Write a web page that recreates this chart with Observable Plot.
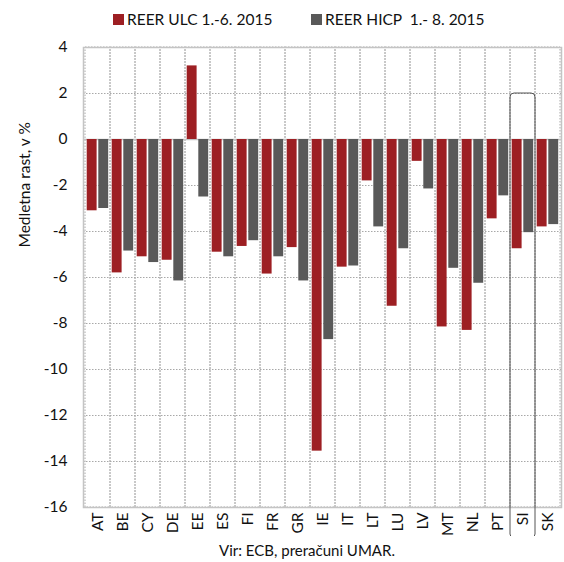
<!DOCTYPE html>
<html>
<head>
<meta charset="utf-8">
<script src="https://cdn.jsdelivr.net/npm/d3@7"></script>
<script src="https://cdn.jsdelivr.net/npm/@observablehq/plot@0.6"></script>
<style>
  html, body { margin: 0; padding: 0; background: #fff; }
  body { width: 564px; height: 562px; position: relative; font-family: Lato, "Open Sans", sans-serif; color: #111; }
  #legend { position: relative; height: 36px; font-size: 15.5px; }
  .li { position: absolute; top: 10px; display: flex; align-items: center; white-space: pre; }
  .sw { width: 11px; height: 11px; margin-right: 3px; }
  #caption { height: 26px; text-align: center; font-size: 15px; padding-left: 50px; line-height: 28px; }
</style>
</head>
<body>
<div id="legend"></div>
<div id="chart"></div>
<div id="caption"></div>
<script>
const countries = ["AT","BE","CY","DE","EE","ES","FI","FR","GR","IE","IT","LT","LU","LV","MT","NL","PT","SI","SK"];
const ulc  = [-3.1, -5.8, -5.1, -5.25, 3.2, -4.9, -4.65, -5.85, -4.7, -13.55, -5.55, -1.8, -7.25, -0.95, -8.15, -8.3, -3.45, -4.75, -3.8];
const hicp = [-3.0, -4.85, -5.35, -6.15, -2.5, -5.1, -4.4, -5.1, -6.15, -8.7, -5.5, -3.8, -4.75, -2.15, -5.6, -6.25, -2.45, -4.05, -3.7];
const seriesNames = ["REER ULC 1.-6. 2015", "REER HICP  1.- 8. 2015"];
const seriesColors = ["#9d1f23", "#595959"];
const yTicks = [4, 2, 0, -2, -4, -6, -8, -10, -12, -14, -16];
const yLabel = "Medletna rast, v %";
const captionText = "Vir: ECB, preračuni UMAR.";
const highlight = ["SI"];

// legend
const legend = document.getElementById("legend");
const legendLeft = [113, 311];
seriesNames.forEach((name, i) => {
  const item = document.createElement("div");
  item.className = "li";
  item.style.left = legendLeft[i] + "px";
  const sw = document.createElement("div");
  sw.className = "sw";
  sw.style.background = seriesColors[i];
  item.appendChild(sw);
  item.appendChild(document.createTextNode(name));
  legend.appendChild(item);
});
document.getElementById("caption").textContent = captionText;

const ulcData = countries.map((c, i) => ({country: c, value: ulc[i]}));
const hicpData = countries.map((c, i) => ({country: c, value: hicp[i]}));
const yMin = d3.min(yTicks), yMax = d3.max(yTicks);

const chart = Plot.plot({
  width: 564,
  height: 500,
  marginTop: 11,
  marginBottom: 29,
  marginLeft: 83,
  marginRight: 3,
  style: {fontFamily: "Lato, 'Open Sans', sans-serif", fontSize: "15px", color: "#111", background: "#fff"},
  x: {domain: countries, padding: 0},
  y: {domain: [yMin, yMax]},
  marks: [
    Plot.gridY(yTicks, {stroke: "#a8a8a8", strokeOpacity: 1, strokeDasharray: "1.5,1.5"}),
    Plot.barY(countries, {x: d => d, y1: yMin, y2: yMax, fill: "none", stroke: "#a8a8a8", strokeDasharray: "1.5,1.5"}),
    Plot.ruleY([0], {stroke: "#c4c4c4", strokeWidth: 1.5}),
    Plot.barY(ulcData, {x: "country", y: "value", fill: seriesColors[0], insetLeft: 1.7, insetRight: 13.4}),
    Plot.barY(hicpData, {x: "country", y: "value", fill: seriesColors[1], insetLeft: 13.3, insetRight: 1.8}),
    Plot.frame({stroke: "#c4c4c4", strokeWidth: 1.5}),
    Plot.rect(highlight, {x: d => d, y1: 2, y2: yMin, insetBottom: -31, rx: 4, fill: "none", stroke: "#555", strokeWidth: 1}),
    Plot.axisY({ticks: yTicks, tickSize: 0, tickPadding: 16, label: null, tickFormat: d => String(d), fontSize: 15.5}),
    Plot.axisX({tickRotate: -90, tickSize: 0, tickPadding: 5, label: null, fontSize: 15.5}),
    Plot.text([yLabel], {frameAnchor: "left", rotate: -90, dx: -58, dy: -30, fontSize: 15.5})
  ]
});
document.getElementById("chart").appendChild(chart);
</script>
</body>
</html>
